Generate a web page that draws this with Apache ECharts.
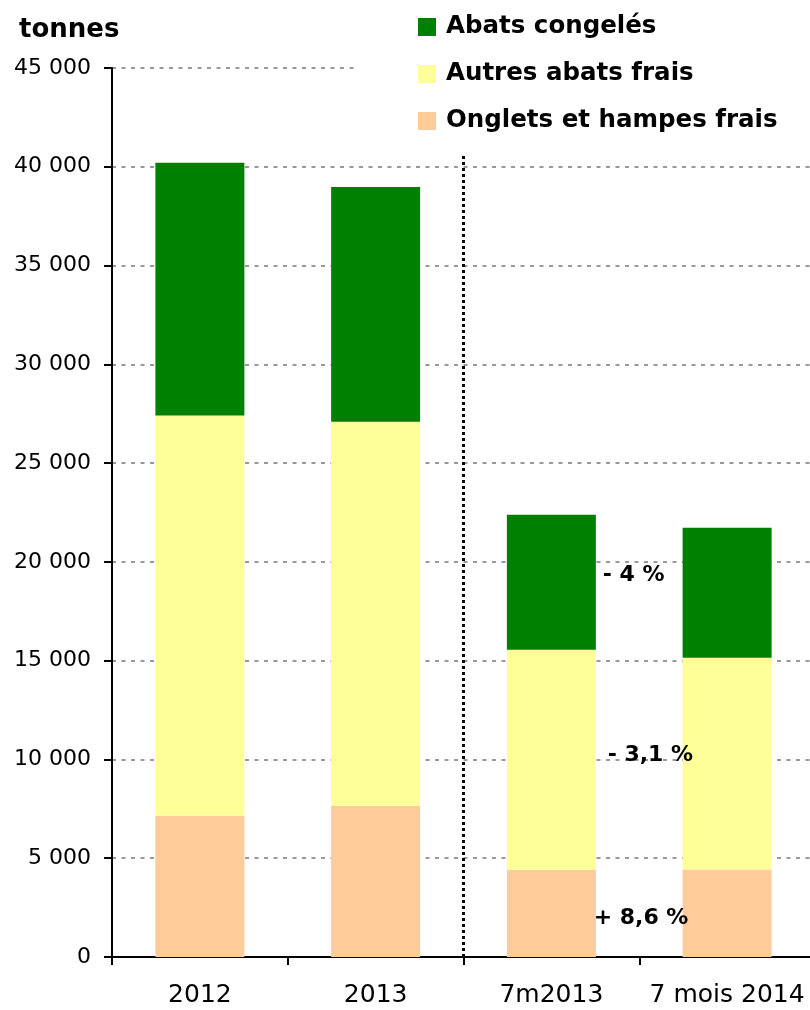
<!DOCTYPE html>
<html>
<head>
    <meta charset="UTF-8">
    <title>Abats</title>
    <script src="https://cdn.jsdelivr.net/npm/echarts@6/dist/echarts.min.js"></script>
    <style>
        html, body { margin: 0; padding: 0; background: #fff; }
        #main { width: 810px; height: 1010px; }
    </style>
</head>
<body>
    <div id="main"></div>
    <script type="text/javascript">
        // categories (x axis)
        var categories = ['2012', '2013', '7m2013', '7 mois 2014'];
        // stacked values, tonnes
        var onglets = [7150, 7660, 4420, 4430];
        var autres = [20260, 19430, 11130, 10720];
        var congeles = [12790, 11890, 6830, 6580];
        // variation labels on the last bar (congelés, autres, onglets)
        var variations = ['- 4 %', '- 3,1 %', '+ 8,6 %'];

        var font = 'DejaVu Sans, Liberation Sans, sans-serif';

        function fmt(v) {
            return String(v).replace(/\B(?=(\d{3})+(?!\d))/g, ' ');
        }

        // label only on the last bar, placed to its left
        function withLabel(arr, text, pos) {
            return arr.map(function (v, i) {
                if (i !== arr.length - 1) return v;
                return {
                    value: v,
                    label: {
                        show: true,
                        formatter: text,
                        position: pos,
                        align: 'left',
                        verticalAlign: 'middle',
                        color: '#000',
                        fontWeight: 'bold',
                        fontSize: 22,
                        fontFamily: font
                    }
                };
            });
        }

        var myChart = echarts.init(document.getElementById('main'));

        var option = {
            animation: false,
            title: {
                text: 'tonnes',
                left: 14,
                top: 12,
                textStyle: { fontSize: 26, fontWeight: 'bold', color: '#000', fontFamily: font }
            },
            legend: {
                data: ['Abats congelés', 'Autres abats frais', 'Onglets et hampes frais'],
                orient: 'vertical',
                left: 356,
                top: 0,
                z: 10,
                padding: [13, 45, 19, 62],
                itemGap: 19,
                itemWidth: 18,
                itemHeight: 18,
                icon: 'rect',
                backgroundColor: '#fff',
                selectedMode: false,
                textStyle: {
                    fontSize: 24.5, fontWeight: 'bold', color: '#000',
                    fontFamily: font, lineHeight: 28, padding: [0, 0, 0, 5]
                }
            },
            grid: {
                left: 112,
                width: 703,
                top: 68,
                bottom: 53,
                outerBoundsMode: 'none'
            },
            xAxis: [
                {
                    type: 'category',
                    data: categories,
                    axisLine: { lineStyle: { color: '#000', width: 2 } },
                    axisTick: { show: true, interval: 0, length: 8, lineStyle: { color: '#000', width: 2 } },
                    axisLabel: { interval: 0, color: '#000', fontSize: 25, fontFamily: font, margin: 26 },
                    splitLine: { show: false }
                },
                {
                    // hidden helper axis for the separator between full years and 7 months
                    type: 'value',
                    min: 0,
                    max: categories.length,
                    show: false
                }
            ],
            yAxis: {
                type: 'value',
                min: 0,
                max: 45000,
                interval: 5000,
                axisLine: { show: true, lineStyle: { color: '#000', width: 2 } },
                axisTick: { show: true, length: 8, lineStyle: { color: '#000', width: 2 } },
                axisLabel: {
                    color: '#000', fontSize: 22, fontFamily: font, margin: 21,
                    formatter: fmt
                },
                splitLine: { lineStyle: { color: '#999', width: 2, type: [4, 5.5] } }
            },
            series: [
                {
                    name: 'Onglets et hampes frais',
                    type: 'bar',
                    stack: 'total',
                    barWidth: 89,
                    itemStyle: { color: '#FFCC99' },
                    data: withLabel(onglets, variations[2], [-89, 49])
                },
                {
                    name: 'Autres abats frais',
                    type: 'bar',
                    stack: 'total',
                    barWidth: 89,
                    itemStyle: { color: '#FFFF99' },
                    data: withLabel(autres, variations[1], [-75, 98])
                },
                {
                    name: 'Abats congelés',
                    type: 'bar',
                    stack: 'total',
                    barWidth: 89,
                    itemStyle: { color: '#008000' },
                    data: withLabel(congeles, variations[0], [-80, 48])
                },
                {
                    name: 'separateur',
                    type: 'line',
                    xAxisIndex: 1,
                    data: [],
                    markLine: {
                        silent: true,
                        symbol: 'none',
                        label: { show: false },
                        lineStyle: { color: '#000', width: 3, type: [3, 3] },
                        data: [{ xAxis: 2 }]
                    }
                }
            ]
        };

        myChart.setOption(option);
    </script>
</body>
</html>
